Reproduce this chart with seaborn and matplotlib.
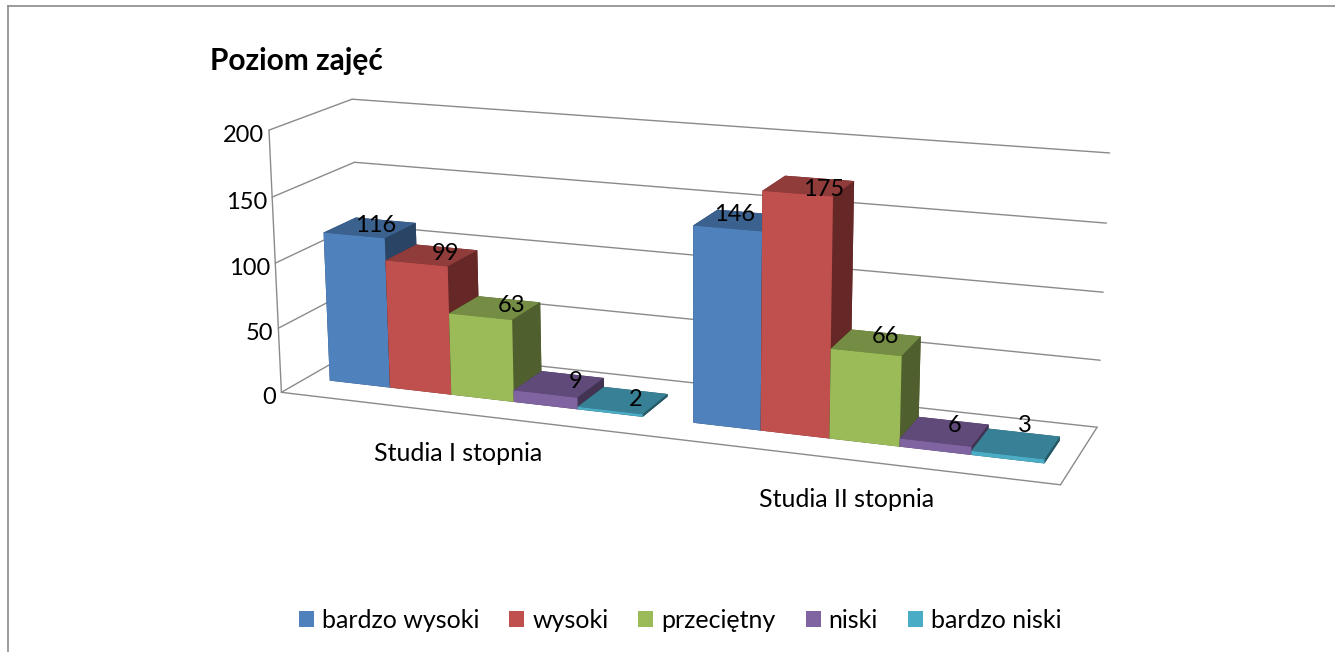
import matplotlib
matplotlib.use("Agg")
import matplotlib.pyplot as plt
import seaborn as sns
from matplotlib.patches import Patch
from mpl_toolkits.mplot3d import proj3d

categories = ["Studia I stopnia", "Studia II stopnia"]
series = ["bardzo wysoki", "wysoki", "przeciętny", "niski", "bardzo niski"]
bardzo_wysoki = [116, 146]
wysoki = [99, 175]
przecietny = [63, 66]
niski = [9, 6]
bardzo_niski = [2, 3]
values = [bardzo_wysoki, wysoki, przecietny, niski, bardzo_niski]
z_ticks = [0, 50, 100, 150, 200]

front_colors = ["#4F81BD", "#C0504D", "#9BBB59", "#8064A2", "#4BACC6"]
top_colors = ["#3B618F", "#8F3C3A", "#748C43", "#604A7A", "#388095"]
side_colors = ["#2A4465", "#652826", "#4F5F2D", "#413351", "#265865"]
line_color = "#8A8A8A"

WIDTH, HEIGHT = 1335, 652
DIGIT_SIZE = 17
WORD_SIZE = 18

sns.set_theme(style="white")
plt.rcParams["font.family"] = ["Lato", "DejaVu Sans"]

fig = plt.figure(figsize=(WIDTH / 100, HEIGHT / 100), dpi=100)

# chart frame, only top and left are visible in the picture
frame = fig.add_axes([8 / WIDTH, 0, 1 - 8 / WIDTH, 1 - 6 / HEIGHT])
frame.set_xticks([])
frame.set_yticks([])
sns.despine(ax=frame, top=False, right=True, left=False, bottom=True)
for side in ["top", "left"]:
    frame.spines[side].set_color(line_color)
    frame.spines[side].set_linewidth(1.2)

# camera fitted to the corners of the plot box
ax = fig.add_axes([452.02 / WIDTH, 147.41 / HEIGHT, 442.58 / WIDTH, 442.58 / HEIGHT], projection="3d", computed_zorder=False)
ax.set_xlim(0, len(categories))
ax.set_ylim(0, 1)
ax.set_zlim(z_ticks[0], z_ticks[-1])
ax.set_proj_type("persp", focal_length=1)
ax.view_init(elev=14.993, azim=-69.552, roll=0.125)
ax.set_box_aspect((1, 0.2171, 0.3397), zoom=1.932)
ax.set_axis_off()
ax.patch.set_visible(False)


def put_text(x, y, z, text, dx, dy, size=DIGIT_SIZE):
    # text next to a 3d point, shifted by some pixels
    px, py, _ = proj3d.proj_transform(x, y, z, ax.get_proj())
    ax.annotate(text, (px, py), xytext=(dx * 0.72, dy * 0.72), textcoords="offset points", fontsize=size,
                color="black", annotation_clip=False, zorder=50, ha="center", va="center")


def box_line(xs, ys, zs):
    ax.plot(xs, ys, zs, color=line_color, lw=1.0, clip_on=False, zorder=1)


for t in z_ticks:
    box_line([0, 0], [0, 1], [t, t])
    box_line([0, len(categories)], [1, 1], [t, t])
    px, py, _ = proj3d.proj_transform(0, 0, t, ax.get_proj())
    ax.annotate(str(t), (px, py), xytext=(-5 * 0.72, -5 * 0.72), textcoords="offset points", fontsize=DIGIT_SIZE,
                color="black", annotation_clip=False, ha="right", va="center")
box_line([0, 0], [0, 0], [z_ticks[0], z_ticks[-1]])
box_line([0, len(categories)], [0, 0], [0, 0])
box_line([len(categories), len(categories)], [0, 1], [0, 0])

bar_w = 0.1735
gap = 0.068
bar_y, bar_d = 0.3, 0.4

label_dx = [[6, 14, 17, 16, 13], [-5, 15, 9, 10, 9]]
label_dy = [[2, 2, 2, 3, 1], [6, -4, 6, 6, 18]]

order = 2
for g in range(len(categories)):
    for s in range(len(series)):
        x = g + gap + s * bar_w
        v = values[s][g]
        col = ax.bar3d(x, bar_y, 0, bar_w, bar_d, v, shade=False, linewidth=0, edgecolor="none",
                       color=[side_colors[s], top_colors[s], front_colors[s], side_colors[s], side_colors[s], side_colors[s]])
        col.set_clip_on(False)
        col.set_zorder(order)
        order += 1
        put_text(x + bar_w / 2, bar_y + bar_d / 2, v, str(v), label_dx[g][s], label_dy[g][s])

for g, name in enumerate(categories):
    put_text(g + 0.5, 0, 0, name, -1, -40, size=WORD_SIZE)

fig.text(210 / WIDTH, 1 - 61 / HEIGHT, "Poziom zajęć", fontsize=21.5, fontweight="bold", color="black", va="center", ha="left")

handles = [Patch(facecolor=c, edgecolor="none", label=n) for c, n in zip(front_colors, series)]
fig.legend(handles=handles, loc="center", bbox_to_anchor=(680 / WIDTH, 1 - 620 / HEIGHT), ncol=5, frameon=False,
           fontsize=WORD_SIZE, handlelength=0.6, handleheight=0.6, handletextpad=0.32, columnspacing=1.2, labelcolor="black")

fig.savefig("out.png", dpi=100)
